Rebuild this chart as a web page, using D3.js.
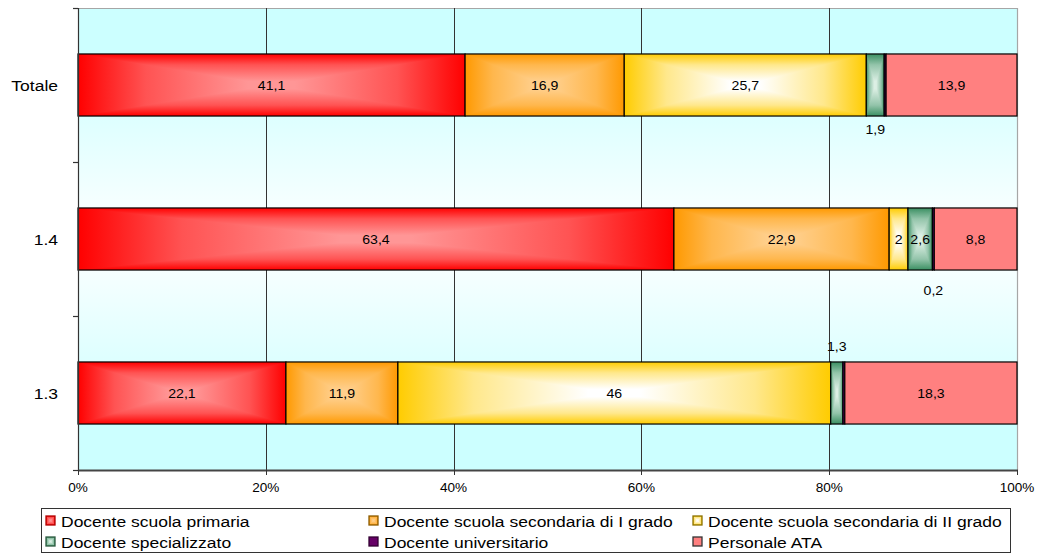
<!DOCTYPE html>
<html><head><meta charset="utf-8">
<script src="https://cdn.jsdelivr.net/npm/d3@7"></script>
<style>body{margin:0;background:#fff}svg{display:block}text{font-family:"Liberation Sans",Arial,sans-serif;fill:#000}</style>
</head><body><svg id="c" width="1037" height="554"></svg>
<script>
// ---- data ----
const categories = ["Totale", "1.4", "1.3"];
const seriesNames = ["Docente scuola primaria", "Docente scuola secondaria di I grado", "Docente scuola secondaria di II grado", "Docente specializzato", "Docente universitario", "Personale ATA"];
const primaria      = [41.1, 63.4, 22.1];
const secondariaI   = [16.9, 22.9, 11.9];
const secondariaII  = [25.7, 2.0, 46.0];
const specializzato = [1.9, 2.6, 1.3];
const universitario = [0.2, 0.2, 0.2];
const personaleATA  = [13.9, 8.8, 18.3];
const xTickValues = [0, 0.2, 0.4, 0.6, 0.8, 1];

// ---- styles ----
const edgeColors   = ["#ff0000", "#ff9900", "#ffcc00", "#3a8f62", "#660066", "#ff8080"];
const centerColors = ["#ff9696", "#ffcf8c", "#ffffff", "#dcefe4", "#660066", "#ff8080"];
const swatchStroke = ["#b00000", "#8a5a00", "#8a7000", "#2d5a40", "#330033", "#333333"];
const SX = 1.13; // horizontal stretch of the original text

const allSeries = [primaria, secondariaI, secondariaII, specializzato, universitario, personaleATA];
const table = categories.map((c, i) => {
  const o = {cat: c};
  seriesNames.forEach((s, j) => o[s] = allSeries[j][i]);
  return o;
});

const svg = d3.select("#c");
const defs = svg.append("defs");
const X0 = 78, X1 = 1017, Y0 = 8, Y1 = 470;

const x = d3.scaleLinear().domain([0, 1]).range([X0, X1]);
const y = d3.scaleBand().domain(categories).range([Y0, Y1]).paddingInner(0.597).paddingOuter(0.2985);

// background gradient
const bg = defs.append("linearGradient").attr("id", "bg").attr("x1", 0).attr("y1", 0).attr("x2", 0).attr("y2", 1);
[[0, "#ccffff"], [0.1, "#ccffff"], [0.5, "#ffffff"], [0.9, "#ccffff"], [1, "#ccffff"]]
  .forEach(([o, c]) => bg.append("stop").attr("offset", o).attr("stop-color", c));

// series gradients (rectangular "from centre")
seriesNames.forEach((s, i) => {
  const e = edgeColors[i], c = centerColors[i];
  const m = d3.interpolateRgb(e, c)(0.55);
  const inward = [[0, e], [0.35, m], [0.88, c], [1, c]];
  const outward = inward.map(([o, col]) => [1 - o, col]).reverse();
  const mk = (id, x2, y2, stops) => {
    const g = defs.append("linearGradient").attr("id", id).attr("x1", 0).attr("y1", 0).attr("x2", x2).attr("y2", y2);
    stops.forEach(([o, col]) => g.append("stop").attr("offset", o).attr("stop-color", col));
  };
  mk("gt" + i, 0, 1, inward);
  mk("gb" + i, 0, 1, outward);
  mk("gl" + i, 1, 0, inward);
  mk("gr" + i, 1, 0, outward);
});

function rectGrad(g, i, rx, ry, w, h, stroke, sw) {
  const cx = rx + w / 2, cy = ry + h / 2;
  g.append("rect").attr("x", rx).attr("y", ry).attr("width", w).attr("height", h).attr("fill", edgeColors[i]);
  if (edgeColors[i] !== centerColors[i]) {
    const tri = (d, f) => g.append("path").attr("d", d).attr("fill", f).attr("shape-rendering", "crispEdges");
    tri(`M${rx},${ry}L${rx + w},${ry}L${cx},${cy}Z`, `url(#gt${i})`);
    tri(`M${rx},${ry + h}L${rx + w},${ry + h}L${cx},${cy}Z`, `url(#gb${i})`);
    tri(`M${rx},${ry}L${rx},${ry + h}L${cx},${cy}Z`, `url(#gl${i})`);
    tri(`M${rx + w},${ry}L${rx + w},${ry + h}L${cx},${cy}Z`, `url(#gr${i})`);
  }
  g.append("rect").attr("x", rx).attr("y", ry).attr("width", w).attr("height", h)
    .attr("fill", "none").attr("stroke", stroke).attr("stroke-width", sw);
}

function stext(g, tx, ty, str, size, anchor) {
  return g.append("text").attr("transform", `translate(${tx},${ty}) scale(${SX},1)`)
    .attr("text-anchor", anchor).attr("font-size", size).text(str);
}

// plot background
svg.append("rect").attr("x", X0).attr("y", Y0).attr("width", X1 - X0).attr("height", Y1 - Y0).attr("fill", "url(#bg)");
// top & right border
svg.append("path").attr("d", `M${X0},${Y0 + 0.5}H${X1 + 0.5}V${Y1}`).attr("fill", "none").attr("stroke", "#a6a6a6").attr("stroke-width", 1.2);

// gridlines
svg.append("g").selectAll("line").data(xTickValues.slice(1, -1)).join("line")
  .attr("x1", d => Math.round(x(d)) + 0.5).attr("x2", d => Math.round(x(d)) + 0.5)
  .attr("y1", Y0).attr("y2", Y1).attr("stroke", "#333").attr("stroke-width", 1);

// bars
const stack = d3.stack().keys(seriesNames).offset(d3.stackOffsetExpand);
const stacked = stack(table);
const barG = svg.append("g");
stacked.forEach((layer, i) => {
  layer.forEach(d => {
    const cat = d.data.cat;
    const rx = x(d[0]), w = x(d[1]) - x(d[0]);
    rectGrad(barG, i, rx, y(cat), w, y.bandwidth(), "#000", 1.2);
  });
});

// data labels
const fmt = v => String(v).replace(".", ",");
const hidden = {"Totale|4": true, "1.3|4": true};
const outside = {"Totale|3": 13, "1.4|4": 20, "1.3|3": -15};
const labG = svg.append("g");
stacked.forEach((layer, i) => {
  layer.forEach(d => {
    const cat = d.data.cat;
    const key = cat + "|" + i;
    if (hidden[key]) return;
    const v = d.data[seriesNames[i]];
    const cx = (x(d[0]) + x(d[1])) / 2;
    let cy = y(cat) + y.bandwidth() / 2;
    if (outside[key] !== undefined) {
      cy = outside[key] > 0 ? y(cat) + y.bandwidth() + outside[key] : y(cat) + outside[key];
    }
    stext(labG, cx, cy + 4.5, fmt(v), 12.5, "middle");
  });
});

// left axis
const ax = svg.append("g");
ax.append("line").attr("x1", X0 + 0.5).attr("x2", X0 + 0.5).attr("y1", Y0).attr("y2", Y1).attr("stroke", "#333").attr("stroke-width", 1.2);
const bounds = d3.range(categories.length + 1).map(k => Y0 + k * y.step());
ax.selectAll(".yt").data(bounds).join("line").attr("class", "yt")
  .attr("x1", X0 - 5).attr("x2", X0).attr("y1", d => Math.round(d) + 0.5).attr("y2", d => Math.round(d) + 0.5)
  .attr("stroke", "#333").attr("stroke-width", 1.2);
categories.forEach(c => stext(ax, 58, y(c) + y.bandwidth() / 2 + 5.5, c, 15.5, "end"));

// bottom axis
ax.append("line").attr("x1", X0).attr("x2", X1 + 1).attr("y1", Y1 + 0.5).attr("y2", Y1 + 0.5).attr("stroke", "#444").attr("stroke-width", 2);
ax.selectAll(".xt").data(xTickValues).join("line").attr("class", "xt")
  .attr("x1", d => Math.round(x(d)) + 0.5).attr("x2", d => Math.round(x(d)) + 0.5)
  .attr("y1", Y1).attr("y2", Y1 + 5).attr("stroke", "#333").attr("stroke-width", 1);
const pct = d3.format(".0%");
xTickValues.forEach(v => stext(ax, x(v), 492, pct(v), 12, "middle"));

// legend
const lg = svg.append("g");
lg.append("rect").attr("x", 41.5).attr("y", 508.5).attr("width", 969).attr("height", 44)
  .attr("fill", "#fff").attr("stroke", "#333").attr("stroke-width", 1);
const colX = [46, 369, 693], rowY = [521, 542];
seriesNames.forEach((s, i) => {
  const cx = colX[i % 3], cy = rowY[Math.floor(i / 3)];
  rectGrad(lg, i, cx, cy - 5, 9, 9, swatchStroke[i], 1.3);
  stext(lg, cx + 15, cy + 5.5, s, 15.5, "start");
});
</script></body></html>
